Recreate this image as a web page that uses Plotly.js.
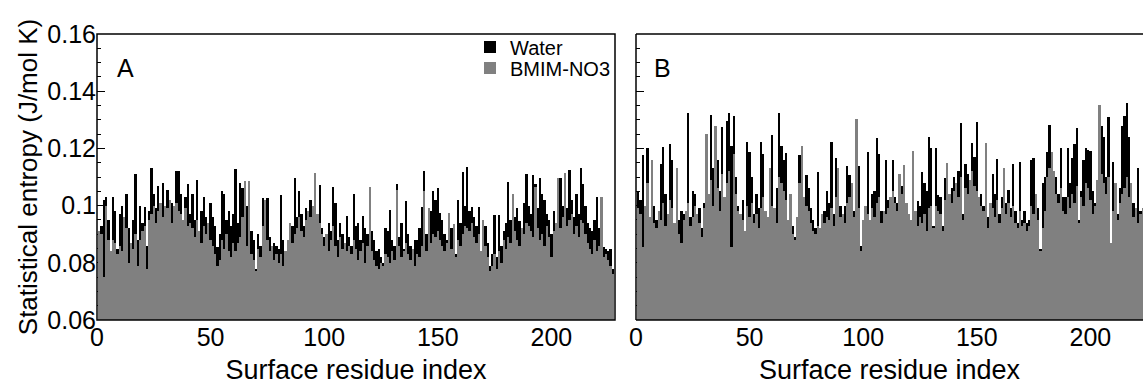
<!DOCTYPE html>
<html>
<head>
<meta charset="utf-8">
<script src="https://cdn.plot.ly/plotly-3.0.1.min.js"></script>
<style>html,body{margin:0;padding:0;background:#fff;}#chart{width:1143px;height:387px;}</style>
</head>
<body>
<div id="chart"></div>
<script>
// Panel A: statistical entropy per surface residue (J/mol K)
const waterA = [
0.089,0.093,0.102,0.103,0.095,0.080,0.103,0.098,0.085,0.097,
0.100,0.094,0.104,0.092,0.082,0.095,0.111,0.088,0.100,0.094,
0.0996,0.086,0.098,0.113,0.104,0.099,0.107,0.100,0.108,0.097,
0.1055,0.100,0.101,0.099,0.112,0.112,0.104,0.092,0.103,0.1075,
0.097,0.104,0.095,0.109,0.090,0.098,0.103,0.096,0.092,0.101,
0.096,0.093,0.0856,0.090,0.105,0.104,0.095,0.098,0.093,0.097,
0.1128,0.094,0.108,0.106,0.097,0.100,0.095,0.091,0.088,0.078,
0.090,0.086,0.1026,0.098,0.1026,0.089,0.084,0.087,0.086,0.085,
0.1036,0.088,0.081,0.086,0.090,0.093,0.1096,0.096,0.105,0.097,
0.093,0.099,0.094,0.102,0.098,0.100,0.095,0.1072,0.092,0.089,
0.087,0.094,0.091,0.1066,0.101,0.088,0.094,0.090,0.086,0.0965,
0.089,0.086,0.104,0.093,0.094,0.088,0.0965,0.092,0.090,0.094,
0.091,0.088,0.084,0.085,0.082,0.080,0.092,0.091,0.0985,0.088,
0.086,0.1077,0.089,0.094,0.085,0.1015,0.090,0.086,0.083,0.088,
0.088,0.092,0.0996,0.112,0.090,0.094,0.098,0.105,0.102,0.106,
0.0975,0.095,0.090,0.088,0.085,0.092,0.087,0.083,0.102,0.094,
0.1119,0.100,0.1134,0.098,0.0996,0.096,0.093,0.0996,0.081,0.088,
0.093,0.087,0.079,0.083,0.0966,0.082,0.0966,0.086,0.091,0.094,
0.1084,0.095,0.097,0.096,0.099,0.0946,0.090,0.101,0.111,0.100,
0.097,0.1107,0.1076,0.099,0.1095,0.104,0.102,0.097,0.095,0.090,
0.098,0.092,0.103,0.1096,0.100,0.098,0.099,0.1125,0.102,0.096,
0.104,0.097,0.113,0.1075,0.100,0.094,0.092,0.091,0.095,0.103,
0.092,0.090,0.0856,0.085,0.084,0.085,0.078
];
const bmimA = [
0.091,0.090,0.075,0.100,0.088,0.084,0.088,0.087,0.083,0.086,
0.084,0.096,0.092,0.080,0.087,0.085,0.090,0.079,0.088,0.091,
0.093,0.078,0.095,0.097,0.100,0.094,0.098,0.101,0.096,0.100,
0.099,0.102,0.094,0.100,0.101,0.098,0.097,0.095,0.099,0.093,
0.094,0.092,0.089,0.095,0.091,0.087,0.093,0.090,0.094,0.088,
0.086,0.083,0.079,0.081,0.088,0.085,0.090,0.084,0.082,0.087,
0.084,0.087,0.089,0.096,0.1087,0.086,0.1087,0.083,0.081,0.077,
0.085,0.082,0.093,0.102,0.088,0.084,0.086,0.081,0.083,0.080,
0.083,0.079,0.084,0.088,0.094,0.087,0.090,0.092,0.096,0.091,
0.089,0.095,0.098,0.096,0.100,0.1113,0.097,0.094,0.090,0.086,
0.090,0.084,0.088,0.093,0.086,0.082,0.089,0.085,0.087,0.084,
0.086,0.083,0.088,0.085,0.081,0.084,0.087,0.080,0.086,0.1064,
0.084,0.081,0.079,0.078,0.080,0.079,0.083,0.082,0.080,0.084,
0.081,0.1055,0.086,0.082,0.084,0.087,0.083,0.081,0.085,0.079,
0.083,0.082,0.086,0.105,0.084,0.099,0.087,0.090,0.089,0.091,
0.088,0.086,0.084,0.087,0.0975,0.085,0.0935,0.082,0.088,0.086,
0.090,0.093,0.092,0.091,0.094,0.089,0.087,0.090,0.084,0.095,
0.086,0.082,0.077,0.079,0.083,0.078,0.084,0.080,0.088,0.085,
0.089,0.087,0.104,0.091,0.088,0.086,0.092,0.090,0.094,0.093,
0.091,0.089,0.1064,0.092,0.088,0.090,0.086,0.093,0.089,0.082,
0.091,0.094,0.1096,0.092,0.096,0.1113,0.093,0.095,0.097,0.090,
0.093,0.089,0.095,0.094,0.090,0.087,0.085,0.083,0.088,0.084,
0.086,0.103,0.082,0.083,0.081,0.079,0.076
];
// Panel B
const waterB = [
0.105,0.102,0.1177,0.098,0.1203,0.094,0.104,0.100,0.095,0.088,
0.1147,0.1205,0.104,0.096,0.1215,0.116,0.092,0.100,0.095,0.098,
0.097,0.091,0.1324,0.096,0.105,0.104,0.093,0.099,0.092,0.101,
0.110,0.103,0.1317,0.113,0.112,0.116,0.105,0.1274,0.097,0.1297,
0.1324,0.121,0.1312,0.110,0.100,0.095,0.102,0.088,0.1224,0.1189,
0.110,0.097,0.104,0.099,0.1224,0.118,0.095,0.091,0.105,0.1247,
0.096,0.106,0.1324,0.121,0.116,0.1184,0.093,0.100,0.093,0.089,
0.094,0.1177,0.115,0.100,0.1107,0.106,0.099,0.095,0.092,0.1119,
0.089,0.094,0.098,0.105,0.101,0.1224,0.097,0.1166,0.100,0.100,
0.093,0.100,0.1139,0.1107,0.102,0.098,0.110,0.114,0.086,0.094,
0.096,0.1186,0.092,0.104,0.105,0.1238,0.118,0.098,0.095,0.116,
0.102,0.098,0.116,0.103,0.101,0.104,0.107,0.100,0.096,0.092,
0.092,0.110,0.097,0.1015,0.100,0.1116,0.108,0.105,0.124,0.120,
0.093,0.120,0.1036,0.103,0.093,0.1095,0.112,0.100,0.106,0.110,
0.104,0.112,0.1289,0.097,0.1146,0.111,0.105,0.1219,0.117,0.1293,
0.102,0.104,0.100,0.106,0.096,0.098,0.111,0.104,0.1164,0.097,
0.103,0.106,0.101,0.1055,0.099,0.1146,0.098,0.094,0.1154,0.095,
0.098,0.094,0.095,0.116,0.1166,0.102,0.099,0.085,0.108,0.110,
0.1188,0.1282,0.112,0.106,0.110,0.104,0.1201,0.103,0.103,0.1201,
0.108,0.1166,0.1217,0.1271,0.095,0.105,0.116,0.120,0.1196,0.119,
0.105,0.101,0.103,0.106,0.128,0.124,0.110,0.1309,0.085,0.1154,
0.102,0.097,0.106,0.128,0.1313,0.1359,0.124,0.104,0.101,0.097,
0.1131,0.098,0.097,0.102,0.105,0.100,0.099
];
const bmimB = [
0.099,0.097,0.0855,0.100,0.108,0.096,0.116,0.094,0.092,0.098,
0.095,0.101,0.093,0.097,0.102,0.099,0.094,0.1133,0.090,0.087,
0.095,0.098,0.101,0.093,0.096,0.100,0.097,0.094,0.089,0.099,
0.125,0.104,0.109,0.100,0.128,0.106,0.098,0.111,0.103,0.108,
0.112,0.0855,0.118,0.104,0.098,0.097,0.095,0.091,0.100,0.096,
0.101,0.094,0.097,0.092,0.099,0.103,0.098,0.096,0.113,0.100,
0.099,0.094,0.110,0.108,0.105,0.102,0.095,0.104,0.090,0.088,
0.096,0.108,0.1207,0.103,0.100,0.098,0.094,0.091,0.090,0.093,
0.092,0.097,0.094,0.096,0.095,0.099,0.093,0.103,0.113,0.096,
0.097,0.094,0.101,0.103,0.108,0.096,0.1303,0.099,0.084,0.095,
0.100,0.097,0.095,0.099,0.096,0.101,0.103,0.094,0.098,0.097,
0.099,0.103,0.105,0.101,0.098,0.111,0.104,0.1143,0.101,0.097,
0.095,0.119,0.098,0.093,0.096,0.094,0.097,0.091,0.099,0.100,
0.092,0.100,0.098,0.097,0.091,0.102,0.115,0.104,0.101,0.105,
0.108,0.103,0.110,0.095,0.106,0.104,0.109,0.112,0.107,0.105,
0.103,0.100,0.098,0.122,0.092,0.101,0.099,0.096,0.102,0.094,
0.099,0.113,0.097,0.101,0.096,0.100,0.094,0.092,0.098,0.093,
0.094,0.091,0.093,0.100,0.097,0.104,0.095,0.084,0.092,0.098,
0.110,0.113,0.1188,0.112,0.104,0.101,0.106,0.098,0.097,0.103,
0.099,0.104,0.101,0.107,0.094,0.103,0.100,0.108,0.106,0.102,
0.097,0.100,0.109,0.1352,0.111,0.108,0.104,0.110,0.087,0.098,
0.108,0.095,0.101,0.104,0.106,0.110,0.103,0.108,0.096,0.099,
0.094,0.097,0.099,0.096,0.098,0.095,0.097
];
const seriesNames = ['Water', 'BMIM-NO3'];
const panelLabels = ['A', 'B'];
const yTickVals = [0.06, 0.08, 0.1, 0.12, 0.14, 0.16];
const xTickVals = [0, 50, 100, 150, 200];
const residuesA = waterA.map((_, i) => i + 1);
const residuesB = waterB.map((_, i) => i + 1);

const BLACK = '#000000', GRAY = '#808080';
const FONT = 'Arial, "Liberation Sans", Helvetica, sans-serif';
const BASE = 0.06;

function barTrace(x, y, name, color, xa, ya, legendId) {
  const t = {type: 'bar', x: x, y: y.map(v => v - BASE), base: BASE, name: name, xaxis: xa, yaxis: ya,
    width: 1, showlegend: !!legendId, marker: {color: color, line: {width: 0}}, hoverinfo: 'x+y'};
  if (legendId) t.legend = legendId;
  return t;
}

const data = [
  barTrace(residuesA, waterA, seriesNames[0], BLACK, 'x', 'y', 'legend'),
  barTrace(residuesA, bmimA, seriesNames[1], GRAY, 'x', 'y', 'legend2'),
  barTrace(residuesB, waterB, seriesNames[0], BLACK, 'x2', 'y2', null),
  barTrace(residuesB, bmimB, seriesNames[1], GRAY, 'x2', 'y2', null)
];

const W = 1143, H = 387;
const axA = [97 / W, 615 / W], axB = [636 / W, 1];
const yDom = [1 - 320 / H, 1 - 34 / H];
const unitPx = (615 - 97) / 228;
const xMaxB = (W - 636) / unitPx;

const yAxisBase = {
  range: [0.06, 0.16], domain: yDom, tickvals: yTickVals, ticks: 'inside', ticklen: 8,
  tickcolor: '#000', tickwidth: 1, showgrid: false, zeroline: false, showline: false,
  minor: {ticks: 'inside', dtick: 0.005, tick0: 0.06, ticklen: 4, tickcolor: '#000', showgrid: false},
  tickfont: {family: FONT, size: 25, color: '#000'}, layer: 'below traces'
};
const xAxisBase = {
  tickvals: xTickVals, ticks: '', showgrid: false, zeroline: false, showline: false,
  tickfont: {family: FONT, size: 25, color: '#000'},
  title: {text: 'Surface residue index', font: {family: FONT, size: 27, color: '#000'}, standoff: 10}
};
const legendBase = {xanchor: 'left', yanchor: 'middle', bgcolor: 'rgba(0,0,0,0)',
  font: {family: FONT, size: 20, color: '#000'}, itemwidth: 30, borderwidth: 0};

const frame = {type: 'line', xref: 'paper', yref: 'paper', line: {color: '#000', width: 1.5}, layer: 'above'};
const layout = {
  width: W, height: H, margin: {l: 0, r: 0, t: 0, b: 0},
  paper_bgcolor: '#fff', plot_bgcolor: '#fff', barmode: 'overlay', bargap: 0,
  font: {family: FONT, color: '#000'},
  xaxis: Object.assign({}, xAxisBase, {domain: axA, range: [0, 228], anchor: 'y'}),
  xaxis2: Object.assign({}, xAxisBase, {domain: axB, range: [0, xMaxB], anchor: 'y2'}),
  yaxis: Object.assign({}, yAxisBase, {anchor: 'x',
    title: {text: 'Statistical entropy (J/mol K)', font: {family: FONT, size: 26, color: '#000'}, standoff: 2}}),
  yaxis2: Object.assign({}, yAxisBase, {anchor: 'x2', showticklabels: false}),
  legend: Object.assign({}, legendBase, {x: 470 / W, y: 1 - 47 / H}),
  legend2: Object.assign({}, legendBase, {x: 470 / W, y: 1 - 68 / H}),
  annotations: [
    {text: panelLabels[0], xref: 'paper', yref: 'paper', x: 125 / W, y: 1 - 68 / H, showarrow: false,
     xanchor: 'center', yanchor: 'middle', font: {family: FONT, size: 25, color: '#000'}},
    {text: panelLabels[1], xref: 'paper', yref: 'paper', x: 662 / W, y: 1 - 68 / H, showarrow: false,
     xanchor: 'center', yanchor: 'middle', font: {family: FONT, size: 25, color: '#000'}}
  ],
  shapes: [
    Object.assign({}, frame, {type: 'rect', x0: axA[0], x1: axA[1], y0: yDom[0], y1: yDom[1]}),
    Object.assign({}, frame, {x0: axB[0], x1: 1, y0: yDom[1], y1: yDom[1]}),
    Object.assign({}, frame, {x0: axB[0], x1: 1, y0: yDom[0], y1: yDom[0]}),
    Object.assign({}, frame, {x0: axB[0], x1: axB[0], y0: yDom[0], y1: yDom[1]})
  ]
};
Plotly.newPlot('chart', data, layout, {staticPlot: true, displayModeBar: false});
</script>
</body>
</html>
